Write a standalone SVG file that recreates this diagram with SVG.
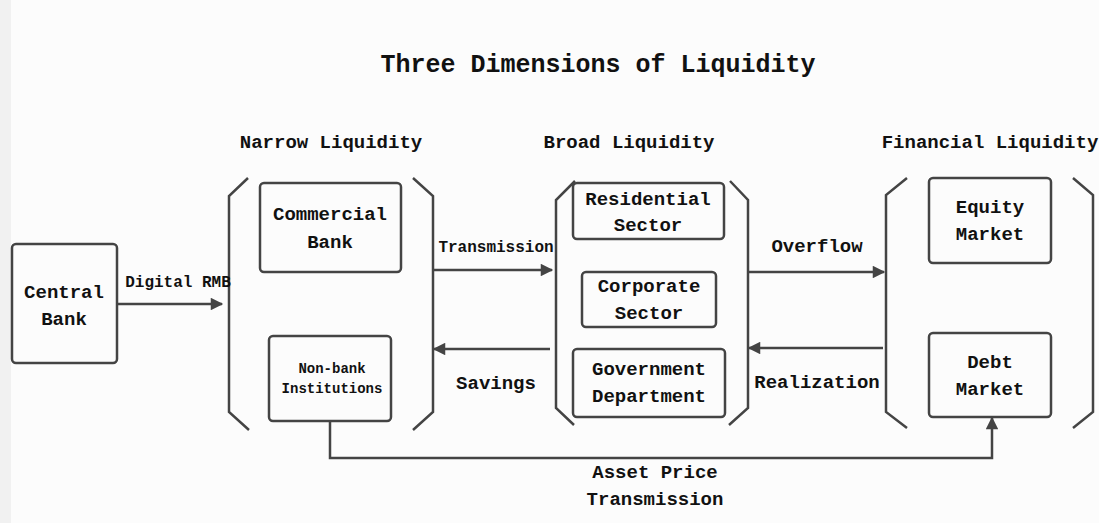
<svg xmlns="http://www.w3.org/2000/svg" width="1099" height="523" viewBox="0 0 1099 523">
<style>
text{font-family:"Liberation Mono","Courier New",monospace;font-weight:bold;fill:#111;text-anchor:middle}
.box{fill:none;stroke:#444;stroke-width:2.5}
.br{fill:none;stroke:#444;stroke-width:2.5;stroke-linejoin:miter}
.c{fill:none;stroke:#444;stroke-width:2.5}
.t19{font-size:19px}
.t16{font-size:16px}
.t14{font-size:14px}
</style>
<defs>
<marker id="ah" viewBox="0 0 10 10" refX="9" refY="5" markerWidth="6" markerHeight="5" markerUnits="strokeWidth" orient="auto">
<path d="M0,0 L10,5 L0,10 z" fill="#444"/>
</marker>
</defs>
<rect width="1099" height="523" fill="#fcfcfc"/>
<rect x="0" y="0" width="11" height="523" fill="#f1f1f1"/>
<text x="598" y="72" style="font-size:25px">Three Dimensions of Liquidity</text>
<g id="headers">
<text class="t19" x="331" y="148">Narrow Liquidity</text>
<text class="t19" x="629" y="148">Broad Liquidity</text>
<text class="t19" x="990" y="148">Financial Liquidity</text>
</g>
<g id="brackets">
<path class="br" d="M248,178 L229,196 L229,412 L249,430"/>
<path class="br" d="M413,178 L433,196 L433,412 L413,430"/>
<path class="br" d="M575,181 L556,200 L556,408 L574,425"/>
<path class="br" d="M730,181 L748,200 L748,408 L729,425"/>
<path class="br" d="M907,178 L886,195 L886,412 L907,428"/>
<path class="br" d="M1073,178 L1093,195 L1093,412 L1073,428"/>
</g>
<g id="central-bank">
<rect class="box" x="12" y="244" width="105" height="119" rx="4"/>
<text class="t19" x="64" y="298">Central</text>
<text class="t19" x="64" y="325">Bank</text>
</g>
<g id="commercial-bank">
<rect class="box" x="260" y="183" width="141" height="89" rx="4"/>
<text class="t19" x="330" y="220">Commercial</text>
<text class="t19" x="330" y="248">Bank</text>
</g>
<g id="non-bank">
<rect class="box" x="269" y="336" width="122" height="85" rx="4"/>
<text class="t14" x="332" y="373">Non-bank</text>
<text class="t14" x="332" y="393">Institutions</text>
</g>
<g id="residential">
<rect class="box" x="573" y="183" width="151" height="56" rx="4"/>
<text class="t19" x="648" y="205">Residential</text>
<text class="t19" x="648" y="231">Sector</text>
</g>
<g id="corporate">
<rect class="box" x="582" y="272" width="134" height="55" rx="4"/>
<text class="t19" x="649" y="292">Corporate</text>
<text class="t19" x="649" y="319">Sector</text>
</g>
<g id="government">
<rect class="box" x="573" y="349" width="152" height="68" rx="4"/>
<text class="t19" x="649" y="375">Government</text>
<text class="t19" x="649" y="402">Department</text>
</g>
<g id="equity">
<rect class="box" x="929" y="178" width="122" height="85" rx="4"/>
<text class="t19" x="990" y="213">Equity</text>
<text class="t19" x="990" y="240">Market</text>
</g>
<g id="debt">
<rect class="box" x="929" y="333" width="122" height="84" rx="4"/>
<text class="t19" x="990" y="368">Debt</text>
<text class="t19" x="990" y="395">Market</text>
</g>
<g id="connectors">
<line class="c" x1="117" y1="304" x2="222" y2="304" marker-end="url(#ah)"/>
<line class="c" x1="433" y1="270" x2="552" y2="270" marker-end="url(#ah)"/>
<line class="c" x1="550" y1="349" x2="434" y2="349" marker-end="url(#ah)"/>
<line class="c" x1="748" y1="272" x2="884" y2="272" marker-end="url(#ah)"/>
<line class="c" x1="883" y1="348" x2="749" y2="348" marker-end="url(#ah)"/>
<path class="c" d="M330,421 L330,458 L992,458 L992,418" marker-end="url(#ah)"/>
<text class="t16" x="178" y="287">Digital RMB</text>
<text class="t16" x="496" y="252">Transmission</text>
<text class="t19" x="496" y="389">Savings</text>
<text class="t19" x="817" y="252">Overflow</text>
<text class="t19" x="817" y="388">Realization</text>
<text class="t19" x="655" y="478">Asset Price</text>
<text class="t19" x="655" y="505">Transmission</text>
</g>
</svg>
